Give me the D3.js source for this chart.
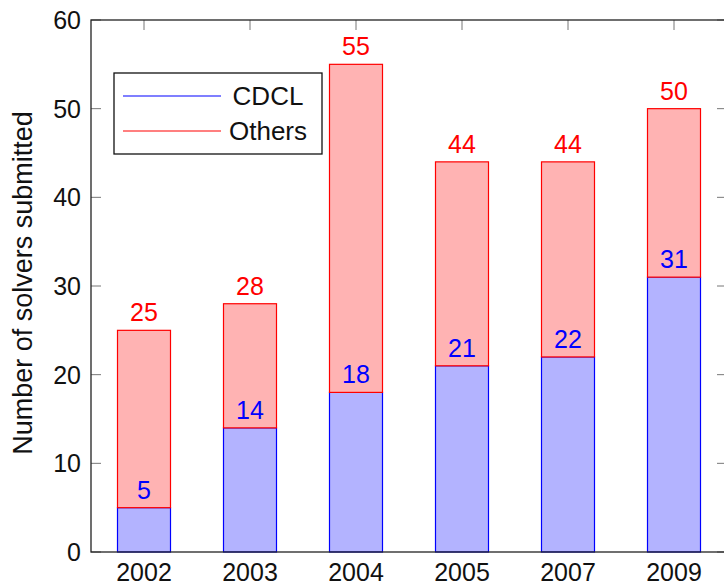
<!DOCTYPE html>
<html>
<head>
<meta charset="utf-8">
<script src="https://cdn.jsdelivr.net/npm/d3@7"></script>
<style>
  body { margin: 0; background: #fff; }
  svg text { font-family: "Liberation Sans", Arial, sans-serif; }
</style>
</head>
<body>
<svg id="chart"></svg>
<script>
// data
const years = ["2002", "2003", "2004", "2005", "2007", "2009"];
const cdcl = [5, 14, 18, 21, 22, 31];
const others = [20, 14, 37, 23, 22, 19];
const yTicks = [0, 10, 20, 30, 40, 50, 60];
const seriesNames = ["CDCL", "Others"];

const width = 724, height = 585;
const margin = { top: 20, right: -3, bottom: 33, left: 91 };

const svg = d3.select("#chart").attr("width", width).attr("height", height);

const x = d3.scalePoint()
  .domain(years)
  .range([margin.left, width - margin.right])
  .padding(0.5);

const y = d3.scaleLinear()
  .domain([0, 60])
  .range([height - margin.bottom, margin.top]);

const barW = x.step() * 0.5;

// stacked layout
const rows = years.map((yr, i) => ({ year: yr, CDCL: cdcl[i], Others: others[i] }));
const stack = d3.stack().keys(seriesNames)(rows);

const fills = { CDCL: "#b3b3ff", Others: "#ffb3b3" };
const strokes = { CDCL: "#0000ff", Others: "#ff0000" };

stack.forEach(layer => {
  svg.append("g")
    .selectAll("rect")
    .data(layer)
    .join("rect")
    .attr("x", d => x(d.data.year) - barW / 2)
    .attr("width", barW)
    .attr("y", d => y(d[1]))
    .attr("height", d => y(d[0]) - y(d[1]))
    .attr("fill", fills[layer.key])
    .attr("stroke", strokes[layer.key])
    .attr("stroke-width", 1.2);
});

// value labels (cumulative values, as pgfplots shows them)
stack.forEach(layer => {
  svg.append("g")
    .selectAll("text")
    .data(layer)
    .join("text")
    .attr("x", d => x(d.data.year))
    .attr("y", d => y(d[1]) - 9)
    .attr("text-anchor", "middle")
    .attr("fill", strokes[layer.key])
    .style("font-size", "25px")
    .text(d => d[1]);
});

// axes frame
const x0 = margin.left, x1 = width - margin.right;
const y0 = height - margin.bottom, y1 = margin.top;

const tickLen = 10;
const ticks = svg.append("g").attr("stroke", "#777").attr("stroke-width", 1);
yTicks.forEach(t => {
  ticks.append("line").attr("x1", x0).attr("x2", x0 + tickLen).attr("y1", y(t)).attr("y2", y(t));
  ticks.append("line").attr("x1", x1).attr("x2", x1 - tickLen).attr("y1", y(t)).attr("y2", y(t));
});
years.forEach(yr => {
  ticks.append("line").attr("x1", x(yr)).attr("x2", x(yr)).attr("y1", y1).attr("y2", y1 + tickLen);
});

svg.append("rect")
  .attr("x", x0).attr("y", y1)
  .attr("width", x1 - x0).attr("height", y0 - y1)
  .attr("fill", "none")
  .attr("stroke", "#222")
  .attr("stroke-width", 1.3);

// tick labels
svg.append("g")
  .selectAll("text")
  .data(yTicks)
  .join("text")
  .attr("x", x0 - 10)
  .attr("y", d => y(d) + 9)
  .attr("text-anchor", "end")
  .attr("fill", "#111")
  .style("font-size", "25px")
  .text(d => d);

svg.append("g")
  .selectAll("text")
  .data(years)
  .join("text")
  .attr("x", d => x(d))
  .attr("y", y0 + 29)
  .attr("text-anchor", "middle")
  .attr("fill", "#111")
  .style("font-size", "25px")
  .text(d => d);

// y axis title
svg.append("text")
  .attr("transform", "translate(32,283) rotate(-90)")
  .attr("text-anchor", "middle")
  .attr("fill", "#111")
  .style("font-size", "27px")
  .text("Number of solvers submitted");

// legend
const legend = svg.append("g");
legend.append("rect")
  .attr("x", 114).attr("y", 73)
  .attr("width", 208).attr("height", 81)
  .attr("fill", "#fff")
  .attr("stroke", "#111")
  .attr("stroke-width", 1.3);

seriesNames.forEach((name, i) => {
  const ly = 96 + i * 35;
  legend.append("line")
    .attr("x1", 123).attr("x2", 221)
    .attr("y1", ly).attr("y2", ly)
    .attr("stroke", strokes[name])
    .attr("stroke-width", 1.2);
  legend.append("text")
    .attr("x", 268)
    .attr("y", ly + 9)
    .attr("text-anchor", "middle")
    .attr("fill", "#111")
    .style("font-size", "26px")
    .text(name);
});
</script>
</body>
</html>
